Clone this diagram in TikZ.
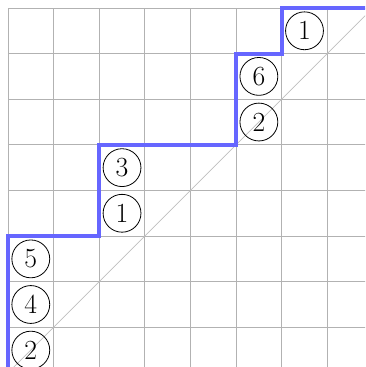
\documentclass[tikz,border=0pt]{standalone}
\begin{document}
\begin{tikzpicture}[x=1cm,y=1cm,
  gridline/.style={draw=black!30,line width=0.6pt},
  diag/.style={draw=black!25,line width=0.4pt},
  lattice/.style={draw=blue!60,line width=2.4pt},
  num/.style={circle,draw=black,line width=0.5pt,minimum size=0.83cm,inner sep=0pt,font=\LARGE}]
\clip (-0.175,0.13) rectangle (7.83,8.175);
\draw[gridline] (0,0) grid (8,8);
\draw[diag] (0,0) -- (8,8);
\draw[lattice] (0,0) -- (0,3) -- (2,3) -- (2,5) -- (5,5) -- (5,7) -- (6,7) -- (6,8) -- (8,8);
\node[num] (a1) at (0.5,0.5) {2};
\node[num] (a2) at (0.5,1.5) {4};
\node[num] (a3) at (0.5,2.5) {5};
\node[num] (b1) at (2.5,3.5) {1};
\node[num] (b2) at (2.5,4.5) {3};
\node[num] (c1) at (5.5,5.5) {2};
\node[num] (c2) at (5.5,6.5) {6};
\node[num] (d1) at (6.5,7.5) {1};
\end{tikzpicture}
\end{document}
